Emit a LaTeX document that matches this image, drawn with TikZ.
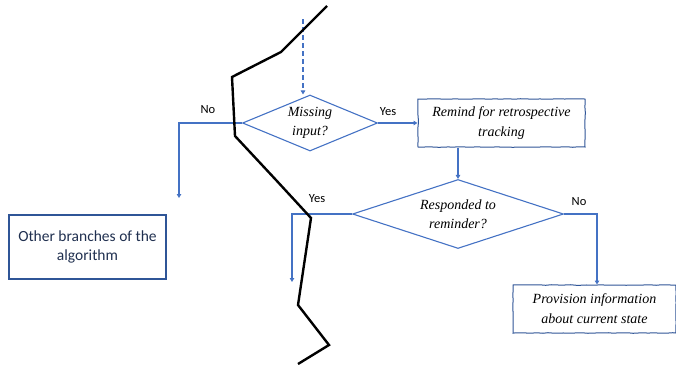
\documentclass[tikz,border=0pt]{standalone}
\usepackage{fontspec}
\setsansfont{Carlito}
\newfontfamily\handfont{Liberation Serif}
\usetikzlibrary{arrows.meta,shapes.geometric,decorations.pathmorphing}
\definecolor{flowblue}{HTML}{4472C4}
\definecolor{boxblue}{HTML}{2F5597}
\definecolor{navytext}{HTML}{1F2F4F}

\begin{document}
\begin{tikzpicture}[x=1pt, y=-1pt,
    flow/.style={draw=flowblue, line width=1.4pt, -{Triangle[width=4.5pt,length=4pt]}},
    decision/.style={diamond, draw=flowblue, line width=1.1pt, inner sep=0pt,
        font=\handfont\itshape\fontsize{14}{19}\selectfont, align=center},
    sketchbox/.style={rectangle, draw=boxblue, line width=1pt, inner sep=0pt,
        font=\handfont\itshape\fontsize{14}{20}\selectfont, align=center,
        decorate, decoration={random steps, segment length=5pt, amplitude=0.3pt}},
    lbl/.style={font=\sffamily\fontsize{12.5}{14}\selectfont}]
    \useasboundingbox (0,0) rectangle (676,364);

    \node (missing) [decision, shape aspect=2.6, minimum width=135pt, minimum height=56pt] at (310,123) {Missing\\input?};
    \node (remind) [sketchbox, minimum width=167pt, minimum height=48pt] at (501.5,123) {Remind for retrospective\\tracking};
    \node (responded) [decision, shape aspect=3.2, minimum width=211pt, minimum height=69pt] at (458,214) {Responded to\\reminder?};
    \node (provision) [sketchbox, minimum width=163pt, minimum height=48pt] at (594.5,309) {Provision information\\about current state};
    \node (other) [rectangle, draw=boxblue, line width=2.2pt, minimum width=157pt, minimum height=64pt,
        text=navytext, align=center, font=\sffamily\fontsize{15.5}{19}\selectfont] at (87.5,247) {Other branches of the\\algorithm};

    \coordinate (entry) at (303,19);
    \coordinate (noend) at (179,198);
    \coordinate (yesend) at (292,282);

    \draw[flow, dashed, dash pattern=on 5pt off 3pt] (entry) -- (entry |- missing.north);
    \draw[flow] (missing.east) -- (remind.west);
    \draw[flow] (missing.west) -| (noend);
    \draw[flow] (remind.south -| responded.north) -- (responded.north);
    \draw[flow] (responded.west) -| (yesend);
    \draw[flow] (responded.east) -| (provision.north -| 597,0);

    \node (no1) [lbl] at (208,110) {No};
    \node (yes1) [lbl] at (388,112) {Yes};
    \node (yes2) [lbl] at (317,199) {Yes};
    \node (no2) [lbl] at (579,202) {No};

    % cut line
    \draw[line width=2.4pt] (327,6) -- (281,52) -- (232,77) -- (235,136) -- (276,180)
        -- (311,218) -- (298,305) -- (329,345) -- (298,364);
\end{tikzpicture}
\end{document}
